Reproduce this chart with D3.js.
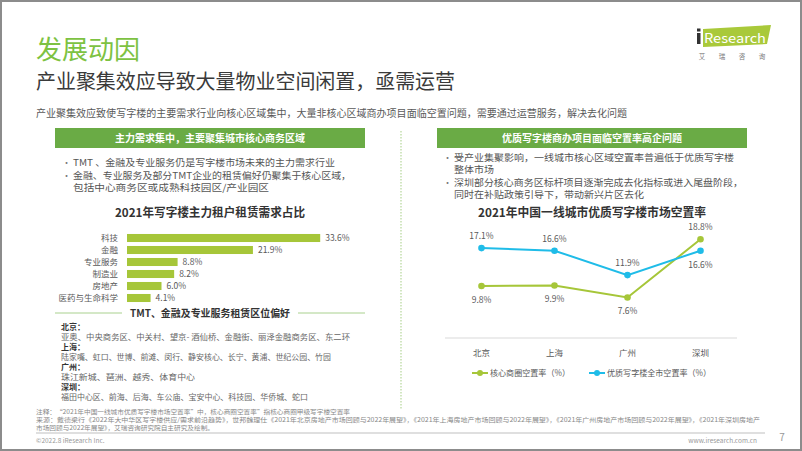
<!DOCTYPE html>
<html>
<head>
<meta charset="utf-8">
<script src="https://cdn.jsdelivr.net/npm/d3@7"></script>
<style>
  body { margin: 0; background: #fff; }
  svg text { font-family: "Noto Sans CJK SC", "Noto Sans", sans-serif; }
</style>
</head>
<body>
<script>

// bar chart data
var barCats = ['科技', '金融', '专业服务', '制造业', '房地产', '医药与生命科学'];
var barVals = [33.6, 21.9, 8.8, 8.2, 6.0, 4.1];

// line chart data
var cities = ['北京', '上海', '广州', '深圳'];
var coreRate = [9.8, 9.9, 7.6, 18.8];
var cityRate = [17.1, 16.6, 11.9, 16.6];
var seriesNames = ['核心商圈空置率（%）', '优质写字楼全市空置率（%）'];

// location lists
var cityHeads = ['北京：', '上海：', '广州：', '深圳：'];
var cityAreas = [
    '亚奥、中央商务区、中关村、望京- 酒仙桥、金融街、丽泽金融商务区、东二环',
    '陆家嘴、虹口、世博、前滩、闵行、静安核心、长宁、黄浦、世纪公园、竹园',
    '珠江新城、琶洲、越秀、体育中心',
    '福田中心区、前海、后海、车公庙、宝安中心、科技园、华侨城、蛇口'
];

var w = 802, h = 451;
var green = '#a6c639', blue = '#1fbce8', hdr = '#6aab45';

var svg = d3.select('body').append('svg')
    .attr('width', w)
    .attr('height', h);

svg.append('rect')
    .attr('x', 1).attr('y', 1)
    .attr('width', w - 2).attr('height', h - 2)
    .attr('fill', '#fff')
    .attr('stroke', '#8c8c8c')
    .attr('stroke-width', 2);

function txt(x, y, s, size, color, opts) {
    opts = opts || {};
    var t = svg.append('text')
        .attr('x', x).attr('y', y)
        .attr('dy', '0.35em')
        .attr('font-size', size)
        .attr('fill', color)
        .attr('text-anchor', opts.anchor || 'start')
        .attr('font-weight', opts.bold ? 'bold' : 'normal')
        .text(s);
    if (opts.len) t.attr('textLength', opts.len).attr('lengthAdjust', 'spacingAndGlyphs');
    return t;
}

// heading
txt(36, 50, '发展动因', 26, '#7dc242');
txt(36, 82, '产业聚集效应导致大量物业空间闲置，亟需运营', 20, '#3a3a3a', {len: 419});
txt(36, 113, '产业聚集效应致使写字楼的主要需求行业向核心区域集中，大量非核心区域商办项目面临空置问题，需要通过运营服务，解决去化问题', 10, '#595959', {len: 591});

// logo
svg.append('path')
    .attr('d', 'M703,29 L771,25 L767,44 L703,47 Z')
    .attr('fill', '#a9c93a');
svg.append('rect').attr('x', 697).attr('y', 33).attr('width', 3.5).attr('height', 11).attr('fill', '#333');
svg.append('rect').attr('x', 697).attr('y', 28.5).attr('width', 3.5).attr('height', 3).attr('fill', '#333');
txt(704, 38, 'Research', 13, '#fff', {len: 62});
['艾', '瑞', '咨', '询'].forEach(function(c, i) {
    txt(702 + i * 20, 57, c, 6.5, '#777', {anchor: 'middle'});
});

// section headers
[[55, '主力需求集中，主要聚集城市核心商务区域'], [437, '优质写字楼商办项目面临空置率高企问题']].forEach(function(d) {
    svg.append('rect')
        .attr('x', d[0]).attr('y', 128)
        .attr('width', 310).attr('height', 20)
        .attr('fill', hdr);
    txt(d[0] + 155, 138, d[1], 10, '#fff', {anchor: 'middle', bold: true});
});

// dotted divider
svg.append('line')
    .attr('x1', 401).attr('x2', 401)
    .attr('y1', 131).attr('y2', 410)
    .attr('stroke', '#b5d69a')
    .attr('stroke-width', 1.2)
    .attr('stroke-dasharray', '1.5,1.5');

// bullets
function bullets(x, lines) {
    lines.forEach(function(l) {
        if (l[2]) txt(x, l[1], '•', 9, '#777');
        txt(x + 11, l[1], l[0], 9.5, '#555', {len: l[3]});
    });
}
bullets(62, [
    ['TMT 、金融及专业服务仍是写字楼市场未来的主力需求行业', 163, true, 262],
    ['金融、专业服务及部分TMT企业的租赁偏好仍聚集于核心区域，', 176, true, 278],
    ['包括中心商务区或成熟科技园区/产业园区', 188, false, 196]
]);
bullets(443, [
    ['受产业集聚影响，一线城市核心区域空置率普遍低于优质写字楼', 158, true, 280],
    ['整体市场', 170, false, 40],
    ['深圳部分核心商务区标杆项目逐渐完成去化指标或进入尾盘阶段，', 183, true, 289],
    ['同时在补贴政策引导下，带动新兴片区去化', 195, false, 190]
]);

// ---------- bar chart ----------
txt(210, 213, '2021年写字楼主力租户租赁需求占比', 12, '#333', {anchor: 'middle', bold: true, len: 190});

var xBar = d3.scaleLinear().domain([0, 40]).range([127, 357]);
var yBar = d3.scaleBand().domain(barCats).range([232, 304])
    .paddingInner(0.33).paddingOuter(0.165);

var barData = barCats.map(function(c, i) { return {cat: c, val: barVals[i]}; });

svg.selectAll('rect.bar')
    .data(barData)
    .enter()
    .append('rect')
    .attr('class', 'bar')
    .attr('x', xBar(0))
    .attr('y', function(d) { return yBar(d.cat); })
    .attr('width', function(d) { return xBar(d.val) - xBar(0); })
    .attr('height', yBar.bandwidth())
    .attr('fill', green);

barData.forEach(function(d) {
    var cy = yBar(d.cat) + yBar.bandwidth() / 2;
    txt(118, cy, d.cat, 8.5, '#595959', {anchor: 'end'});
    txt(xBar(d.val) + 5, cy, d.val.toFixed(1) + '%', 8.5, '#595959');
});

// sub heading with side rules
txt(210, 313, 'TMT、金融及专业服务租赁区位偏好', 10, '#333', {anchor: 'middle', bold: true, len: 160});
[[55, 122], [298, 365]].forEach(function(p) {
    svg.append('line')
        .attr('x1', p[0]).attr('x2', p[1])
        .attr('y1', 313).attr('y2', 313)
        .attr('stroke', '#a9d18e')
        .attr('stroke-width', 1);
});

cityHeads.forEach(function(c, i) {
    var y0 = 327.5 + i * 19.8;
    txt(61, y0, c, 8, '#333', {bold: true});
    txt(61, y0 + 9.9, cityAreas[i], 8, '#666', {len: [289, 270, 134, 247][i]});
});

// ---------- line chart ----------
txt(592, 213, '2021年中国一线城市优质写字楼市场空置率', 12, '#333', {anchor: 'middle', bold: true, len: 228});

var xLine = d3.scalePoint().domain(cities).range([445, 737]).padding(0.5);
var yLine = d3.scaleLinear().domain([0, 20]).range([337, 233]);

svg.append('line')
    .attr('x1', 445).attr('x2', 737)
    .attr('y1', 338).attr('y2', 338)
    .attr('stroke', '#d9d9d9')
    .attr('stroke-width', 1);

cities.forEach(function(c) {
    txt(xLine(c), 353, c, 8.5, '#595959', {anchor: 'middle'});
});

var line = d3.line()
    .x(function(d) { return xLine(d.city); })
    .y(function(d) { return yLine(d.v); });

var series = [
    {vals: coreRate, color: green, below: [true, true, true, false]},
    {vals: cityRate, color: blue, below: [false, false, false, true]}
];

series.forEach(function(s) {
    var pts = cities.map(function(c, i) { return {city: c, v: s.vals[i], below: s.below[i]}; });
    svg.append('path')
        .datum(pts)
        .attr('d', line)
        .attr('fill', 'none')
        .attr('stroke', s.color)
        .attr('stroke-width', 2);
    svg.selectAll(null)
        .data(pts)
        .enter()
        .append('circle')
        .attr('cx', function(d) { return xLine(d.city); })
        .attr('cy', function(d) { return yLine(d.v); })
        .attr('r', 3.3)
        .attr('fill', s.color);
    pts.forEach(function(d) {
        var y = yLine(d.v) + (d.below ? 14 : -12);
        txt(xLine(d.city), y, d.v.toFixed(1) + '%', 8.5, '#595959', {anchor: 'middle'});
    });
});

// legend
series.forEach(function(s, i) {
    var lx = [472, 589][i];
    svg.append('line')
        .attr('x1', lx).attr('x2', lx + 16)
        .attr('y1', 373).attr('y2', 373)
        .attr('stroke', s.color).attr('stroke-width', 2);
    svg.append('circle')
        .attr('cx', lx + 8).attr('cy', 373).attr('r', 3)
        .attr('fill', s.color);
    txt(lx + 18, 373, seriesNames[i], 8.5, '#595959', {len: [80, 104][i]});
});

// ---------- footnotes ----------
txt(36, 412, '注释：“2021年中国一线城市优质写字楼市场空置率”中，核心商圈空置率”指核心商圈甲级写字楼空置率', 6.2, '#888', {len: 314});
txt(36, 420, '来源：戴德梁行《2022年大中华区写字楼供应/需求前沿趋势》，世邦魏理仕《2021年北京房地产市场回顾与2022年展望》，《2021年上海房地产市场回顾与2022年展望》，《2021年广州房地产市场回顾与2022年展望》，《2021年深圳房地产', 6.2, '#888', {len: 724});
txt(36, 428, '市场回顾与2022年展望》，艾瑞咨询研究院自主研究及绘制。', 6.2, '#888', {len: 178});

svg.append('line')
    .attr('x1', 36).attr('x2', 765)
    .attr('y1', 433).attr('y2', 433)
    .attr('stroke', '#bfbfbf').attr('stroke-width', 1);

txt(36, 441, '©2022.8 iResearch Inc.', 6.5, '#999');
txt(757, 441, 'www.iresearch.com.cn', 6.5, '#999', {anchor: 'end'});
txt(782, 437, '7', 10, '#999', {anchor: 'middle'});

</script>
</body>
</html>
